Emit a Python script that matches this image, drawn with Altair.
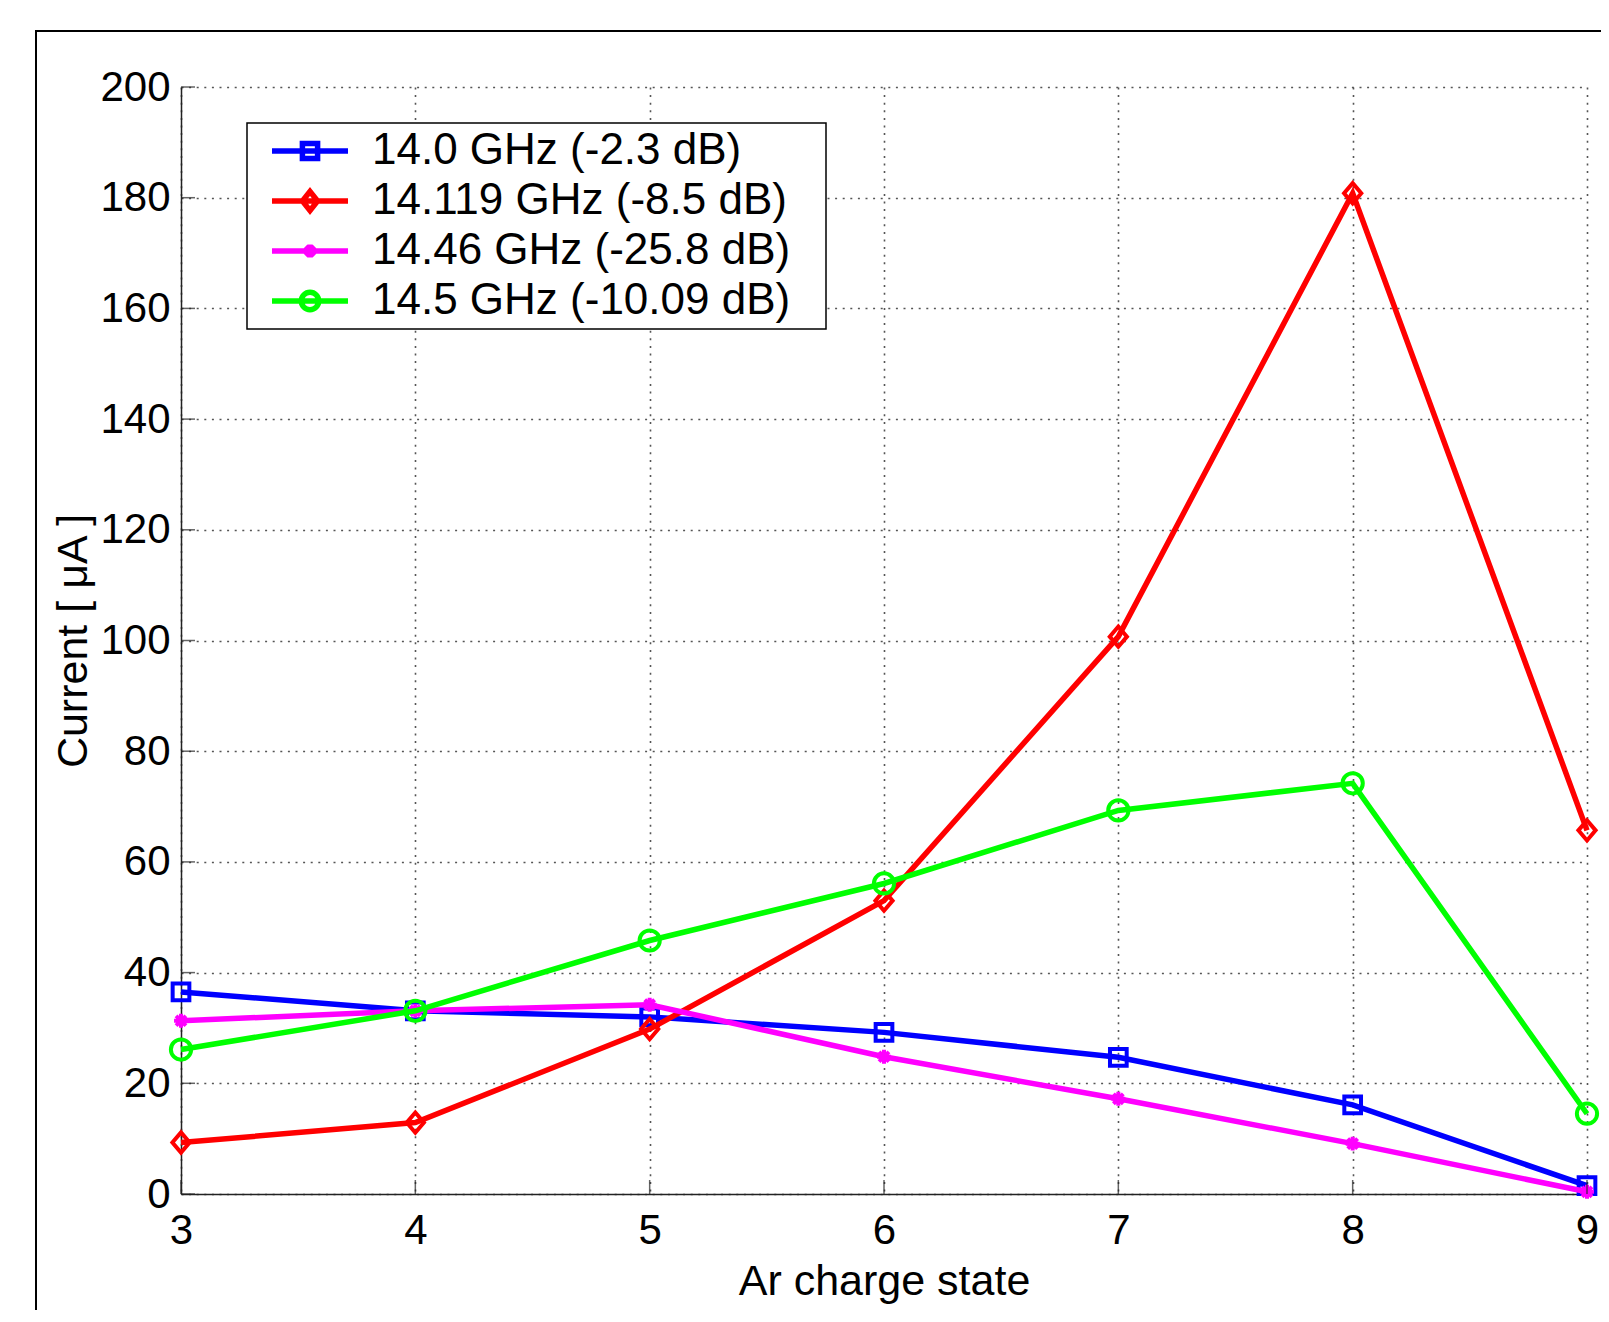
import altair as alt
import pandas as pd

# ---------------- data ----------------
charge_states = [3, 4, 5, 6, 7, 8, 9]
series_names = [
    "14.0 GHz (-2.3 dB)",
    "14.119 GHz (-8.5 dB)",
    "14.46 GHz (-25.8 dB)",
    "14.5 GHz (-10.09 dB)",
]
current_14_0 = [36.5, 33.1, 32.0, 29.2, 24.7, 16.1, 1.5]
current_14_119 = [9.3, 12.9, 29.8, 53.0, 100.7, 180.8, 65.7]
current_14_46 = [31.3, 33.1, 34.2, 24.8, 17.2, 9.1, 0.4]
current_14_5 = [26.1, 33.1, 45.8, 56.1, 69.3, 74.2, 14.5]
x_ticks = [3, 4, 5, 6, 7, 8, 9]
y_ticks = [0, 20, 40, 60, 80, 100, 120, 140, 160, 180, 200]

colors = ["#0000ff", "#ff0000", "#ff00ff", "#00ff00"]

# ---------------- styling ----------------
FONT = "Liberation Sans"
W, H = 1406, 1107

# plot marker shapes (unit = sqrt(size)/2)
plot_paths = [
    "M-0.66,-0.66H0.66V0.66H-0.66Z",
    "M0,-0.8L0.68,0L0,0.8L-0.68,0Z",
    "M-0.55,0H0.55M0,-0.55V0.55M-0.39,-0.39L0.39,0.39M-0.39,0.39L0.39,-0.39",
    "M0.8,0A0.8,0.8 0 1,1 -0.8,0A0.8,0.8 0 1,1 0.8,0Z",
]
# legend symbols: line + marker (unit = 38px)
legend_paths = [
    "M-1,0H1M-0.2,-0.2H0.2V0.2H-0.2Z",
    "M-1,0H1M0,-0.25L0.2,0L0,0.25L-0.2,0Z",
    "M-1,0H1M-0.17,0H0.17M0,-0.17V0.17M-0.12,-0.12L0.12,0.12M-0.12,0.12L0.12,-0.12",
    "M-1,0H1M0.23,0A0.23,0.23 0 1,1 -0.23,0A0.23,0.23 0 1,1 0.23,0Z",
]

all_values = [current_14_0, current_14_119, current_14_46, current_14_5]
rows = []
for name, vals in zip(series_names, all_values):
    for xv, yv in zip(charge_states, vals):
        rows.append({"series": name, "charge": xv, "current": yv})
df = pd.DataFrame(rows)

x_scale = alt.Scale(domain=[3, 9], nice=False, zero=False)
y_scale = alt.Scale(domain=[0, 200], nice=False)

x_axis = alt.Axis(
    values=x_ticks, format="d", labelPadding=16, labelFlush=False,
    title="Ar charge state", titleY=100, titleBaseline="alphabetic",
)
y_axis = alt.Axis(
    values=y_ticks, format="d", labelPadding=11, labelFlush=False,
    title="Current [ μA ]",
    titleX=-95, titleY=H / 2, titleAngle=270, titleBaseline="alphabetic",
    titleAlign="center",
)

x_enc = alt.X("charge:Q", scale=x_scale, axis=x_axis)
y_enc = alt.Y("current:Q", scale=y_scale, axis=y_axis)

# figure frame
frame = alt.Chart(pd.DataFrame({"charge": [3], "current": [0]})).mark_rect(
    fillOpacity=0, stroke="black", strokeWidth=2
).encode(
    x=alt.value(-145), x2=alt.value(W + 200), y=alt.value(-56), y2=alt.value(H + 300)
)

layers = [frame]

for i, name in enumerate(series_names):
    base = alt.Chart(df).transform_filter(alt.datum.series == name)
    line = base.mark_line(strokeWidth=5.5, color=colors[i]).encode(x=x_enc, y=y_enc)
    pts = base.mark_point(
        shape=plot_paths[i], size=640, strokeWidth=4, color=colors[i],
        filled=False, opacity=1,
    ).encode(x=x_enc, y=y_enc)
    layers += [line, pts]

# inward ticks
xt = alt.Chart(pd.DataFrame({"charge": x_ticks})).mark_tick(
    orient="vertical", size=14, thickness=1.5, color="#222222"
).encode(x=x_enc, y=alt.value(H - 7))
yt = alt.Chart(pd.DataFrame({"current": y_ticks})).mark_tick(
    orient="horizontal", size=14, thickness=1.5, color="#222222"
).encode(y=y_enc, x=alt.value(7))
layers += [xt, yt]

# legend layer (no marks drawn, legend only)
legend_def = alt.Legend(labelExpr="datum.label + '\u2800'")
leg = alt.Chart(df).transform_filter("datum.charge < 0").mark_point(
    filled=False, opacity=1
).encode(
    x=x_enc,
    y=y_enc,
    color=alt.Color("series:N", title=None, legend=legend_def,
                    scale=alt.Scale(domain=series_names, range=colors)),
    shape=alt.Shape("series:N", title=None, legend=legend_def,
                    scale=alt.Scale(domain=series_names, range=legend_paths)),
)
layers.append(leg)

chart = alt.layer(*layers).properties(
    width=W, height=H,
    padding={"left": 173, "top": 79, "right": 14, "bottom": 116},
    autosize=alt.AutoSizeParams(type="none"),
).configure_view(stroke=None).configure_axis(
    domainColor="#222222", domainWidth=1.5, ticks=False,
    labelFont=FONT, labelFontSize=42, labelColor="black",
    titleFont=FONT, titleFontSize=43, titleFontWeight="normal", titleColor="black",
    grid=True, gridColor="#555555", gridDash=[2, 5.6], gridWidth=1.6, gridOpacity=1,
).configure_legend(
    orient="none", legendX=66, legendY=36, direction="vertical",
    padding=3, symbolOffset=19, labelOffset=21, clipHeight=50, rowPadding=0,
    symbolSize=5776, symbolStrokeWidth=5.5,
    labelFont=FONT, labelFontSize=44, labelColor="black", labelLimit=1000,
    strokeColor="black", fillColor="white", strokeWidth=1.5,
)

chart.save("out.html", embed_options={"renderer": "svg", "actions": False})
